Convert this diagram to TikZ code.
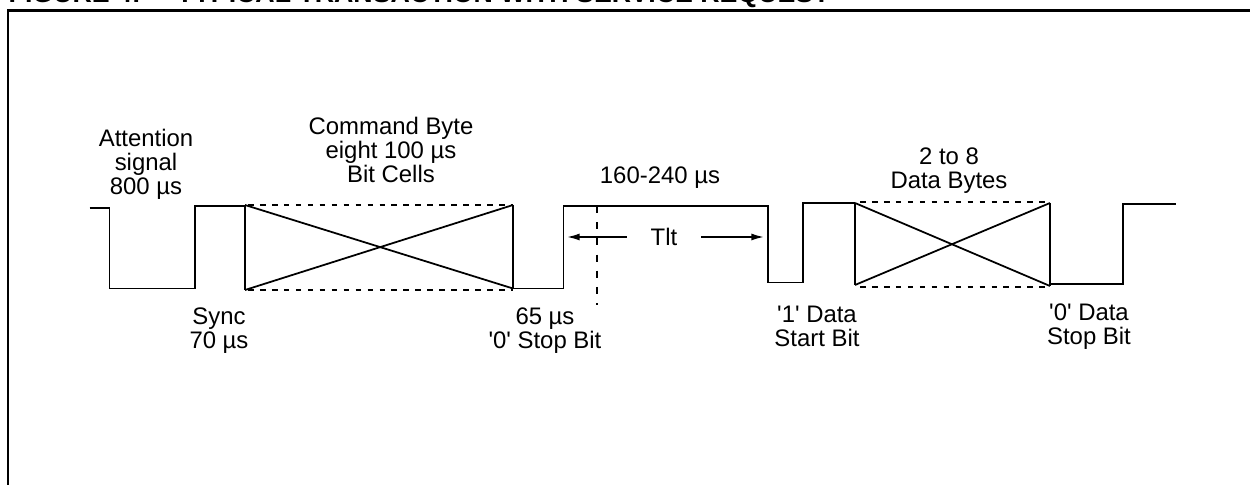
\documentclass[tikz,border=0pt]{standalone}
\usepackage{fontspec}
\setmainfont[Ligatures=TeXOff]{Liberation Sans}
\usepackage{tikz}
\usetikzlibrary{arrows.meta}
\tikzset{
	wave/.style={line width=0.55pt},
	cross/.style={line width=0.5pt},
	guide/.style={line width=0.5pt,dash pattern=on 1.6pt off 1.8pt},
	lbl/.style={align=center,inner sep=0pt,font=\fontsize{6.8}{6.83}\selectfont},
	dimarrow/.style={line width=0.5pt,-{Latex[length=3.6pt,width=2pt]}}
}
\begin{document}
\begin{tikzpicture}[x=0.01cm,y=-0.01cm]
	\useasboundingbox (0,0) rectangle (1250,485);
	\clip (0,0) rectangle (1250,485);
	% Frame, open on the right and at the bottom
	\node[anchor=base west,inner sep=0pt,font=\fontsize{7.6}{8}\bfseries\selectfont] (title) at (8,3) {\makebox[47.8pt][l]{FIGURE 4:}TYPICAL TRANSACTION WITH SERVICE REQUEST};
	\draw[line width=0.8pt] (8,485) -- (8,10.7) -- (1250,10.7);
	% Signal before and after the bytes
	\draw[wave] (89.5,208) -- (109.5,208) -- (109.5,288.5) -- (195,288.5) -- (195,206) -- (245,206);
	\draw[wave] (513,288.5) -- (563.5,288.5) -- (563.5,206) -- (768,206) -- (768,282.5) -- (803,282.5) -- (803,203) -- (855,203);
	\draw[wave] (1050,284) -- (1123,284) -- (1123,204) -- (1176,204);
	% Command byte and data bytes
	\foreach \xa/\xb/\ya/\yb/\yc/\yd in {245/513/205/290/205/288.5,855/1050/203/285/203/286}{
		\draw[cross] (\xa,\ya) -- (\xb,\yd);
		\draw[cross] (\xa,\yb) -- (\xb,\yc);
		\draw[cross] (\xa,\ya) -- (\xa,\yb);
		\draw[cross] (\xb,\yc) -- (\xb,\yd);
	}
	\draw[guide] (248,205) -- (513,205);
	\draw[guide] (248,290) -- (513,290);
	\draw[guide] (860,202) -- (1050,202);
	\draw[guide] (860,287) -- (1050,287);
	\draw[guide,dash pattern=on 2pt off 2.6pt] (597,206) -- (597,305);
	% Tlt arrows
	\node[lbl,inner xsep=2.35mm] (tlt) at (664,237) {Tlt};
	\coordinate (tltleft) at (567,237);
	\coordinate (tltright) at (764,237);
	\draw[dimarrow] (tlt) -- (tltleft);
	\draw[dimarrow] (tlt) -- (tltright);
	% Labels
	\node[lbl] (attention) at (146,164) {Attention\\signal\\800 µs};
	\node[lbl] (command) at (391,150) {Command Byte\\eight 100 µs\\Bit Cells};
	\node[lbl] (gap) at (660,178) {160-240 µs};
	\node[lbl] (bytes) at (949,171) {2 to 8\\Data Bytes};
	\node[lbl] (sync) at (219,331) {Sync\\70 µs};
	\node[lbl] (stop) at (545,331) {65 µs\\'0' Stop Bit};
	\node[lbl] (start) at (817,326) {'1' Data\\Start Bit};
	\node[lbl] (datastop) at (1089,327) {'0' Data\\Stop Bit};
\end{tikzpicture}
\end{document}
